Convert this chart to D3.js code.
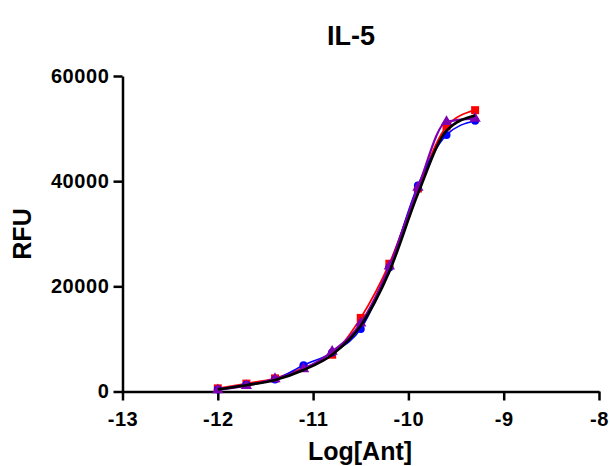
<!DOCTYPE html>
<html>
<head>
<meta charset="utf-8">
<script src="https://cdn.jsdelivr.net/npm/d3@7"></script>
<style>
  body { margin: 0; background: #fff; }
  text { font-family: "Liberation Sans", Arial, sans-serif; font-weight: bold; fill: #000; }
</style>
</head>
<body>
<div id="chart"></div>
<script>
// log concentration (2-fold dilutions)
const logAnt = [-12, -11.7, -11.4, -11.1, -10.8, -10.5, -10.2, -9.9, -9.6, -9.3]
const redVals = [600, 1500, 2500, 4500, 7000, 14000, 24300, 38600, 50400, 53500]
const blueVals = [400, 1300, 2300, 5000, 7400, 11900, 23600, 39200, 48800, 51500]
const purpleVals = [300, 1100, 2400, 4300, 7600, 13000, 23800, 38800, 51300, 51900]
const fitVals = [400, 1200, 2200, 4100, 7000, 12500, 22800, 37600, 49600, 52500]
const xTicks = [-13, -12, -11, -10, -9, -8]
const yTicks = [0, 20000, 40000, 60000]

const W = 610, H = 466
const margin = {top: 76, right: 11, bottom: 74.5, left: 122.5}

const svg = d3.select('#chart').append('svg')
    .attr('width', W)
    .attr('height', H)

const x = d3.scaleLinear().domain([-13, -8]).range([margin.left, W - margin.right])
const y = d3.scaleLinear().domain([0, 60000]).range([H - margin.bottom, margin.top])

// axes
const xAxis = svg.append('g')
    .attr('transform', `translate(0,${y(0)})`)
    .call(d3.axisBottom(x).tickValues(xTicks).tickSize(9).tickSizeOuter(0).tickFormat(d => String(d)))
const yAxis = svg.append('g')
    .attr('transform', `translate(${x(-13)},0)`)
    .call(d3.axisLeft(y).tickValues(yTicks).tickSize(9).tickSizeOuter(0).tickFormat(d => String(d)))

svg.selectAll('.domain, .tick line').attr('stroke', '#000').attr('stroke-width', 2.5)
svg.selectAll('.tick text').attr('font-size', 20).attr('font-family', null).attr('letter-spacing', 0.6)
xAxis.selectAll('.tick text').attr('dy', null).attr('y', 34)
yAxis.selectAll('.tick text').attr('x', -13)

// series
const series = [
    {vals: redVals, color: '#ff0000', shape: d3.symbolSquare, size: 64, width: 1.8},
    {vals: blueVals, color: '#0000ff', shape: d3.symbolCircle, size: 50, width: 1.6},
    {vals: purpleVals, color: '#8000b0', shape: d3.symbolTriangle, size: 55, width: 2.2}
]

const line = d3.line()
    .x((d, i) => x(logAnt[i]))
    .y(d => y(d))
    .curve(d3.curveMonotoneX)

series.forEach(s => {
    svg.append('g').selectAll('path')
        .data(s.vals)
        .join('path')
        .attr('d', d3.symbol().type(s.shape).size(s.size))
        .attr('transform', (d, i) => `translate(${x(logAnt[i])},${y(d)})`)
        .attr('fill', s.color)
    svg.append('path')
        .datum(s.vals)
        .attr('d', line)
        .attr('fill', 'none')
        .attr('stroke', s.color)
        .attr('stroke-width', s.width)
})

svg.append('path')
    .datum(fitVals)
    .attr('d', line)
    .attr('fill', 'none')
    .attr('stroke', '#000')
    .attr('stroke-width', 2.6)

// labels
svg.append('text')
    .attr('x', 351).attr('y', 45)
    .attr('text-anchor', 'middle')
    .attr('font-size', 27)
    .text('IL-5')

svg.append('text')
    .attr('x', 360).attr('y', 460)
    .attr('text-anchor', 'middle')
    .attr('font-size', 25)
    .text('Log[Ant]')

svg.append('text')
    .attr('transform', 'translate(31,234) rotate(-90)')
    .attr('text-anchor', 'middle')
    .attr('font-size', 25)
    .text('RFU')
</script>
</body>
</html>
